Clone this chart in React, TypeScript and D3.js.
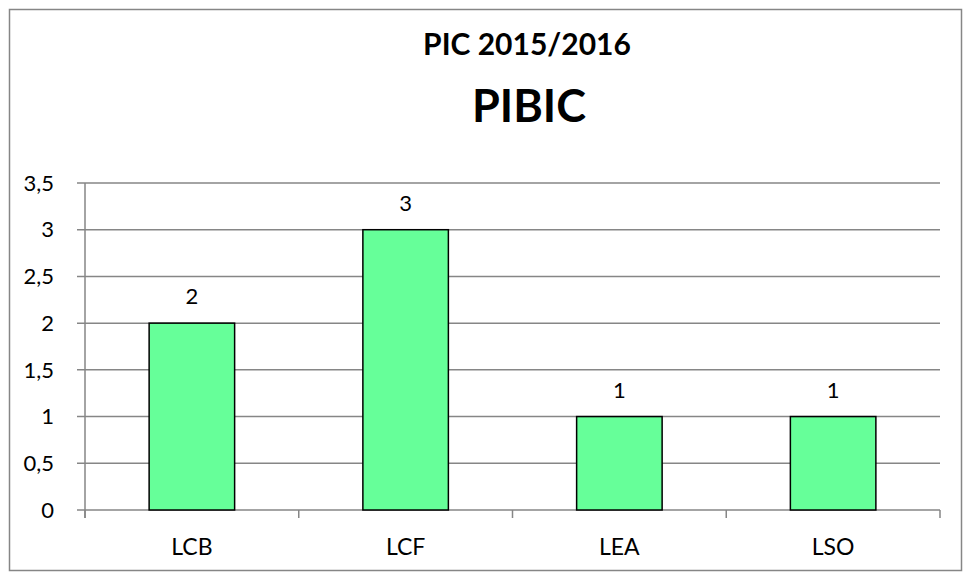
import React, { useEffect, useRef } from 'react';
import * as d3 from 'd3';

const categories = ['LCB', 'LCF', 'LEA', 'LSO'];
const values = [2, 3, 1, 1];
const yTicks = [0, 0.5, 1, 1.5, 2, 2.5, 3, 3.5];
const titleTop = 'PIC 2015/2016';
const titleMain = 'PIBIC';

const W = 978;
const H = 579;

export default function App() {
  const ref = useRef<SVGSVGElement>(null);

  useEffect(() => {
    const svg = d3.select(ref.current);
    svg.selectAll('*').remove();

    const font = 'Lato, "Open Sans", sans-serif';
    const grey = '#868686';
    const margin = { top: 183, right: 38, bottom: 69, left: 85 };
    const width = W - margin.left - margin.right;
    const height = H - margin.top - margin.bottom;

    // outer chart frame
    svg.append('rect')
      .attr('x', 9.5).attr('y', 9.5)
      .attr('width', 952).attr('height', 561)
      .attr('fill', '#fff')
      .attr('stroke', grey)
      .attr('stroke-width', 1.5);

    svg.append('text')
      .attr('x', 527).attr('y', 55)
      .attr('text-anchor', 'middle')
      .style('font-family', font)
      .style('font-weight', 'bold')
      .style('font-size', '30px')
      .text(titleTop);

    svg.append('text')
      .attr('x', 529).attr('y', 122)
      .attr('text-anchor', 'middle')
      .style('font-family', font)
      .style('font-weight', 'bold')
      .style('font-size', '45px')
      .text(titleMain);

    const g = svg.append('g').attr('transform', `translate(${margin.left},${margin.top})`);

    const x = d3.scaleBand().domain(categories).range([0, width]).paddingInner(0).paddingOuter(0);
    const y = d3.scaleLinear().domain([0, 3.5]).range([height, 0]);

    // gridlines + y ticks
    g.selectAll('.grid')
      .data(yTicks)
      .join('line')
      .attr('x1', -8).attr('x2', width)
      .attr('y1', d => y(d)).attr('y2', d => y(d))
      .attr('stroke', grey)
      .attr('stroke-width', 1.5);

    g.selectAll('.ylab')
      .data(yTicks)
      .join('text')
      .attr('x', -31)
      .attr('y', d => y(d))
      .attr('dy', '0.35em')
      .attr('text-anchor', 'end')
      .style('font-family', font)
      .style('font-size', '22px')
      .text(d => String(d).replace('.', ','));

    // axes lines
    g.append('line')
      .attr('x1', 0).attr('x2', 0)
      .attr('y1', 0).attr('y2', height + 8)
      .attr('stroke', grey).attr('stroke-width', 1.5);

    const xTicks = [...categories.map(c => x(c) as number), width];
    g.selectAll('.xtick')
      .data(xTicks)
      .join('line')
      .attr('x1', d => d).attr('x2', d => d)
      .attr('y1', height).attr('y2', height + 8)
      .attr('stroke', grey).attr('stroke-width', 1.5);

    const bw = x.bandwidth() * 0.4;
    const data = categories.map((c, i) => ({ c, v: values[i] }));

    g.selectAll('.bar')
      .data(data)
      .join('rect')
      .attr('x', d => (x(d.c) as number) + (x.bandwidth() - bw) / 2)
      .attr('y', d => y(d.v))
      .attr('width', bw)
      .attr('height', d => height - y(d.v))
      .attr('fill', '#66FF99')
      .attr('stroke', '#000')
      .attr('stroke-width', 1.5);

    g.selectAll('.vlab')
      .data(data)
      .join('text')
      .attr('x', d => (x(d.c) as number) + x.bandwidth() / 2)
      .attr('y', d => y(d.v) - 19)
      .attr('text-anchor', 'middle')
      .style('font-family', font)
      .style('font-size', '22px')
      .text(d => d.v);

    g.selectAll('.xlab')
      .data(categories)
      .join('text')
      .attr('x', d => (x(d) as number) + x.bandwidth() / 2)
      .attr('y', height + 45)
      .attr('text-anchor', 'middle')
      .style('font-family', font)
      .style('font-size', '23px')
      .text(d => d);
  }, []);

  return (
    <svg ref={ref} width={W} height={H} style={{ display: 'block', position: 'absolute', left: 0, top: 0 }} />
  );
}
